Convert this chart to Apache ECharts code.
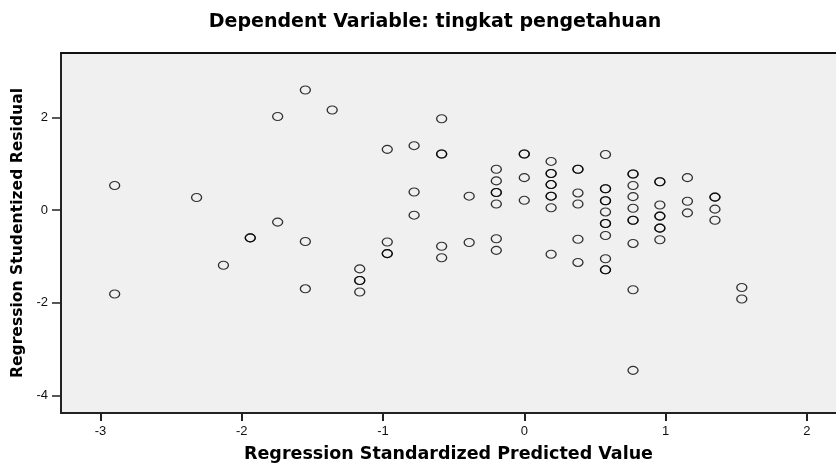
<!DOCTYPE html>
<html>
<head>
<meta charset="utf-8">
<script src="https://cdn.jsdelivr.net/npm/echarts@6/dist/echarts.min.js"></script>
<style>
  html, body { margin: 0; padding: 0; background: #fff; }
  #chart { width: 836px; height: 465px; }
</style>
</head>
<body>
<div id="chart"></div>
<script>
// Regression scatter: standardized predicted value vs studentized residual
const predicted = [
  -2.90, -2.90,
  -2.32,
  -2.13,
  -1.94, -1.94,
  -1.746, -1.746,
  -1.55, -1.55, -1.55,
  -1.36,
  -1.165, -1.165, -1.165, -1.165,
  -0.97, -0.97, -0.97, -0.97,
  -0.78, -0.78, -0.78,
  -0.585, -0.585, -0.585, -0.585, -0.585,
  -0.39, -0.39,
  -0.198, -0.198, -0.198, -0.198, -0.198, -0.198, -0.198,
  0, 0, 0, 0,
  0.19, 0.19, 0.19, 0.19, 0.19, 0.19, 0.19, 0.19, 0.19,
  0.38, 0.38, 0.38, 0.38, 0.38, 0.38,
  0.575, 0.575, 0.575, 0.575, 0.575, 0.575, 0.575, 0.575, 0.575, 0.575, 0.575, 0.575,
  0.77, 0.77, 0.77, 0.77, 0.77, 0.77, 0.77, 0.77, 0.77, 0.77,
  0.96, 0.96, 0.96, 0.96, 0.96, 0.96, 0.96, 0.96,
  1.155, 1.155, 1.155,
  1.35, 1.35, 1.35, 1.35,
  1.54, 1.54
]
const residual = [
  0.53, -1.81,
  0.27,
  -1.19,
  -0.60, -0.60,
  2.02, -0.26,
  2.59, -0.68, -1.70,
  2.16,
  -1.27, -1.52, -1.52, -1.77,
  1.31, -0.69, -0.94, -0.94,
  1.39, 0.39, -0.11,
  1.97, 1.21, 1.21, -0.78, -1.03,
  0.30, -0.70,
  0.88, 0.63, 0.38, 0.38, 0.13, -0.62, -0.87,
  1.21, 1.21, 0.70, 0.21,
  1.05, 0.79, 0.79, 0.55, 0.55, 0.30, 0.30, 0.05, -0.955,
  0.88, 0.88, 0.37, 0.13, -0.63, -1.13,
  1.20, 0.46, 0.46, 0.20, 0.20, -0.04, -0.29, -0.29, -0.55, -1.05, -1.29, -1.29,
  0.78, 0.78, 0.53, 0.29, 0.04, -0.22, -0.22, -0.72, -1.72, -3.46,
  0.61, 0.61, 0.11, -0.13, -0.13, -0.39, -0.39, -0.64,
  0.70, 0.19, -0.06,
  0.28, 0.28, 0.02, -0.22,
  -1.67, -1.92
]
const xTicks = [-3, -2, -1, 0, 1, 2]
const yTicks = [-4, -2, 0, 2]

const points = predicted.map((x, i) => [x, residual[i]])

const chart = echarts.init(document.getElementById("chart"))

const font = "'DejaVu Sans', 'Liberation Sans', sans-serif"
const tickFont = "'Liberation Sans', Arial, sans-serif"

chart.setOption({
  backgroundColor: "#fff",
  animation: false,
  title: {
    text: "Dependent Variable: tingkat pengetahuan",
    left: 430,
    top: 8,
    textAlign: "center",
    textStyle: { fontFamily: font, fontSize: 19, fontWeight: "bold", color: "#000" },
  },
  grid: {
    left: 61,
    top: 53,
    right: 0,
    bottom: 52,
    containLabel: false,
    outerBoundsMode: "none",
    show: true,
    backgroundColor: "#f0f0f0",
    borderWidth: 0,
  },
  xAxis: [
    {
      type: "value",
      min: -3.28,
      max: 2.207,
      name: "Regression Standardized Predicted Value",
      nameLocation: "middle",
      nameGap: 32,
      nameTextStyle: { fontFamily: font, fontSize: 17.5, fontWeight: "bold", color: "#000" },
      axisLine: { show: true, onZero: false, lineStyle: { color: "#222", width: 2 } },
      axisTick: { show: true, length: 8, lineStyle: { color: "#222", width: 2 }, customValues: xTicks },
      axisLabel: { color: "#111", fontFamily: tickFont, fontSize: 13, margin: 12, customValues: xTicks },
      splitLine: { show: false },
    },
    {
      type: "value",
      position: "top",
      min: -3.28,
      max: 2.207,
      axisLine: { show: true, onZero: false, lineStyle: { color: "#111", width: 2 } },
      axisTick: { show: false },
      axisLabel: { show: false },
      splitLine: { show: false },
    },
  ],
  yAxis: {
    type: "value",
    min: -4.38,
    max: 3.39,
    name: "Regression Studentized Residual",
    nameLocation: "middle",
    nameGap: 23,
    nameTextStyle: { fontFamily: font, fontSize: 15.6, fontWeight: "bold", color: "#000" },
    axisLine: { show: true, onZero: false, lineStyle: { color: "#222", width: 2 } },
    axisTick: { show: true, length: 9, lineStyle: { color: "#222", width: 1.5 }, customValues: yTicks },
    axisLabel: { color: "#111", fontFamily: tickFont, fontSize: 13, margin: 13, customValues: yTicks },
    splitLine: { show: false },
  },
  series: [
    {
      type: "scatter",
      data: points,
      symbol: "circle",
      symbolSize: [10, 8],
      itemStyle: { color: "rgba(0,0,0,0)", borderColor: "#000", borderWidth: 1.2 },
      emphasis: { disabled: true },
    },
  ],
})
</script>
</body>
</html>
